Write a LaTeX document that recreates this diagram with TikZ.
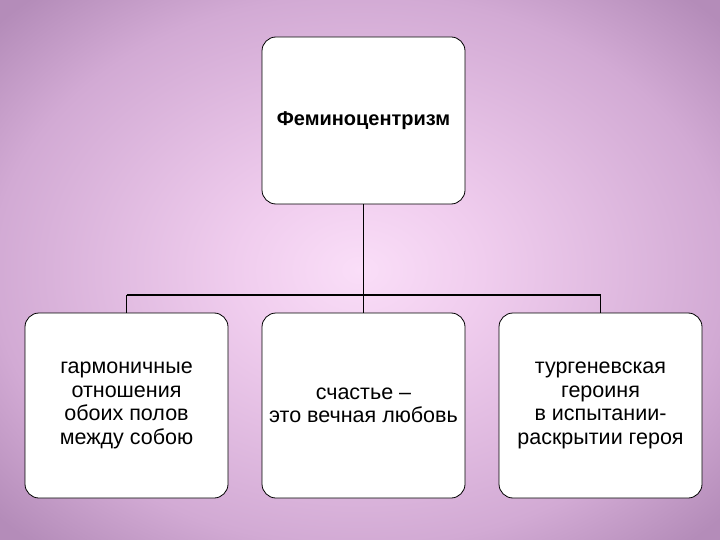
\documentclass[tikz,border=0pt]{standalone}
\usepackage{fontspec}
\setmainfont{Liberation Sans}
\definecolor{bgin}{RGB}{250,222,248}
\definecolor{bgmid}{RGB}{240,205,238}
\definecolor{bgedge}{RGB}{210,170,212}
\definecolor{bgout}{RGB}{180,140,185}
\pgfdeclareradialshading{bgshade}{\pgfpoint{0cm}{0cm}}{%
  color(0cm)=(bgin); color(0.3cm)=(bgmid); color(0.9cm)=(bgedge); color(1.2cm)=(bgout); color(2cm)=(bgout)}
\begin{document}
\begin{tikzpicture}[x=1pt,y=-1pt,
  box/.style={draw=black,line width=0.8pt,fill=white,rounded corners=14pt,minimum width=203pt,minimum height=185pt,align=center,font=\fontsize{21.5}{23.5}\selectfont},
  con/.style={draw=black,line width=1.3pt}]
\shade[shading=bgshade] (0,0) rectangle (720,540);
\useasboundingbox (0,0) rectangle (720,540);
\node[box,minimum height=167pt,font=\bfseries\fontsize{20}{23}\selectfont] (top) at (363.5,120.5) {Феминоцентризм};
\node[box] (l) at (126.5,405.5) {гармоничные\\отношения\\обоих полов\\между собою};
\node[box] (m) at (363.5,405.5) {счастье –\\это вечная любовь};
\node[box] (r) at (600.5,405.5) {тургеневская\\героиня\\в испытании-\\раскрытии героя};
\coordinate (j) at (363.5,295);
\coordinate (jl) at (126.5,295);
\coordinate (jr) at (600.5,295);
\draw[con] (top.south) -- (j);
\draw[con] (jl) -- (jr);
\draw[con] (jl) -- (l.north);
\draw[con] (j) -- (m.north);
\draw[con] (jr) -- (r.north);
\end{tikzpicture}
\end{document}
